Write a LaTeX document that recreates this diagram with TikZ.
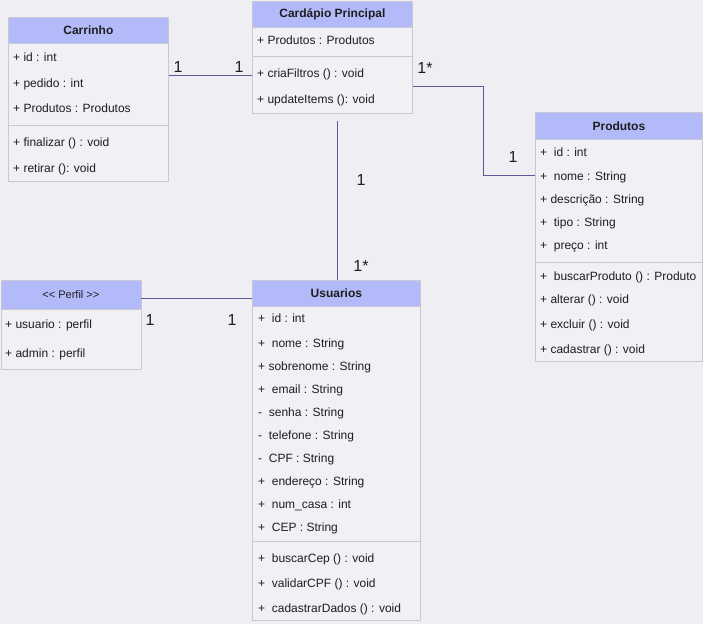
\documentclass[tikz,border=0pt]{standalone}
\usepackage{fontspec}
\setmainfont{Liberation Sans}[Ligatures=NoCommon]
\usetikzlibrary{calc}
\definecolor{bgcol}{RGB}{238,238,243}
\definecolor{bodycol}{RGB}{240,240,245}
\definecolor{headcol}{RGB}{179,186,250}
\definecolor{bordercol}{RGB}{200,200,215}
\definecolor{conncol}{RGB}{90,90,150}
\definecolor{txtcol}{RGB}{30,30,30}
\tikzset{
  box/.style={draw=bordercol, fill=bodycol, line width=0.8pt, anchor=north west, inner sep=0},
  head/.style={draw=bordercol, fill=headcol, line width=0.8pt, anchor=north west, inner sep=0, font=\fontsize{12}{14}\selectfont\bfseries, text=txtcol},
  headn/.style={draw=bordercol, fill=headcol, line width=0.8pt, anchor=north west, inner sep=0, font=\fontsize{11}{13}\selectfont, text=txtcol},
  attr/.style={anchor=base west, inner sep=0, yshift=-4.3pt, font=\fontsize{12}{14}\selectfont, text=txtcol},
  sep/.style={draw=bordercol, line width=0.8pt},
  conn/.style={draw=conncol, line width=0.8pt},
  mult/.style={inner sep=0, font=\fontsize{16}{18}\selectfont, text=txtcol}
}
\begin{document}
\begin{tikzpicture}[x=1pt,y=-1pt]
\fill[bgcol] (0,0) rectangle (703,624);
\useasboundingbox (0,0) rectangle (703,624);

% Carrinho
\node[box, minimum width=160pt, minimum height=164pt] (carr) at (8,17) {};
\node[head, minimum width=160pt, minimum height=26pt] (carrH) at (8,17) {Carrinho};
\node[attr] (carr1) at (13,57) {+ id : int};
\node[attr] (carr2) at (13,83) {+ pedido : int};
\node[attr] (carr3) at (13,108) {+ Produtos : Produtos};
\draw[sep] (8,125) -- (168,125);
\node[attr] (carr4) at (13,142) {+ finalizar () : void};
\node[attr] (carr5) at (13,168) {+ retirar (): void};

% Cardapio Principal
\node[box, minimum width=160pt, minimum height=112pt] (card) at (252,0.5) {};
\node[head, minimum width=160pt, minimum height=26pt] (cardH) at (252,0.5) {Cardápio Principal};
\node[attr] (card1) at (257,40) {+ Produtos : Produtos};
\draw[sep] (252,56) -- (412,56);
\node[attr] (card2) at (257,73) {+ criaFiltros () : void};
\node[attr] (card3) at (257,99) {+ updateItems (): void};

% Produtos
\node[box, minimum width=167pt, minimum height=249pt] (prod) at (535,112) {};
\node[head, minimum width=167pt, minimum height=27pt] (prodH) at (535,112) {Produtos};
\node[attr] (prod1) at (540,152) {+\ \ id : int};
\node[attr] (prod2) at (540,176) {+\ \ nome : String};
\node[attr] (prod3) at (540,199) {+ descrição : String};
\node[attr] (prod4) at (540,222) {+\ \ tipo : String};
\node[attr] (prod5) at (540,245) {+\ \ preço : int};
\draw[sep] (535,262) -- (702,262);
\node[attr] (prod6) at (540,276) {+\ \ buscarProduto () : Produto};
\node[attr] (prod7) at (540,299) {+ alterar () : void};
\node[attr] (prod8) at (540,324) {+ excluir () : void};
\node[attr] (prod9) at (540,349) {+ cadastrar () : void};

% Perfil
\node[box, minimum width=140pt, minimum height=89pt] (perf) at (0.5,280) {};
\node[headn, minimum width=140pt, minimum height=29pt] (perfH) at (0.5,280) {<\kern0pt< Perfil >\kern0pt>};
\node[attr] (perf1) at (5,324) {+ usuario : perfil};
\node[attr] (perf2) at (5,353) {+ admin : perfil};

% Usuarios
\node[box, minimum width=168pt, minimum height=340pt] (usu) at (252,280) {};
\node[head, minimum width=168pt, minimum height=26pt] (usuH) at (252,280) {Usuarios};
\node[attr] (usu1) at (258,318) {+\ \ id : int};
\node[attr] (usu2) at (258,343) {+\ \ nome : String};
\node[attr] (usu3) at (258,366) {+ sobrenome : String};
\node[attr] (usu4) at (258,389) {+\ \ email : String};
\node[attr] (usu5) at (258,412) {-\ \ senha : String};
\node[attr] (usu6) at (258,435) {-\ \ telefone : String};
\node[attr] (usu7) at (258,458) {-\ \ CPF : String};
\node[attr] (usu8) at (258,481) {+\ \ endereço : String};
\node[attr] (usu9) at (258,504) {+\ \ num\_casa : int};
\node[attr] (usu10) at (258,527) {+\ \ CEP : String};
\draw[sep] (252,541) -- (420,541);
\node[attr] (usu11) at (258,558) {+\ \ buscarCep () : void};
\node[attr] (usu12) at (258,583) {+\ \ validarCPF () : void};
\node[attr] (usu13) at (258,608) {+\ \ cadastrarDados () : void};

% connectors
\coordinate (cy1) at (0,75);
\draw[conn] (carr.east |- cy1) -- (card.west |- cy1);
\node[mult] (m1) at (178,67) {1};
\node[mult] (m2) at (239,67) {1};

\coordinate (b1) at (483,86);
\coordinate (b2) at (483,175);
\draw[conn] (card.east |- b1) -- (b1) -- (b2) -- (prod.west |- b2);
\node[mult] (m3) at (425,68) {1*};
\node[mult] (m4) at (513,157) {1};

\coordinate (v1) at (337,121);
\draw[conn] (v1) -- (usu.north -| v1);
\node[mult] (m5) at (361,180) {1};
\node[mult] (m6) at (361,266) {1*};

\coordinate (h1) at (0,298);
\draw[conn] (perf.east |- h1) -- (usu.west |- h1);
\node[mult] (m7) at (150,320) {1};
\node[mult] (m8) at (232,320) {1};
\end{tikzpicture}
\end{document}
